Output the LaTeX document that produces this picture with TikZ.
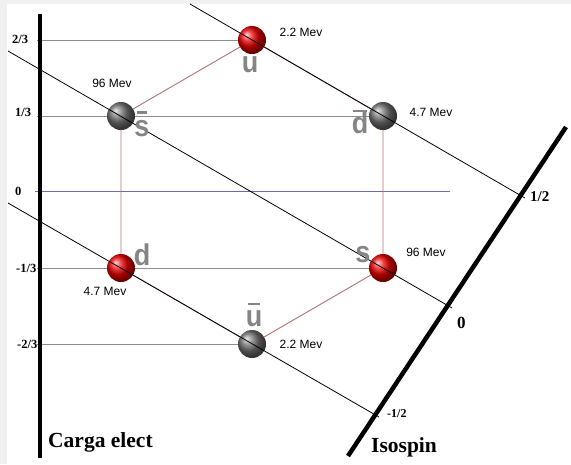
\documentclass[tikz,border=0pt]{standalone}
\usepackage{fontspec}
\setmainfont{Liberation Serif}
\setsansfont{Liberation Sans}
\usetikzlibrary{backgrounds}

\definecolor{gridgray}{HTML}{8E8E8E}
\definecolor{zeroline}{HTML}{6E6E9E}
\definecolor{edgered}{HTML}{B07272}
\definecolor{quarkgray}{HTML}{858585}
\definecolor{framegray}{HTML}{F0F0F0}

% letter with a bar over it (antiquark); #1 gap below the bar, #2 bar width factor, #3 letter
\newcommand{\barq}[3]{\setbox0\hbox{#3}\vbox{\offinterlineskip\hbox to\wd0{\hss\vrule width #2\wd0 height 2.6pt depth 0pt\hss}\kern#1\box0}}

\begin{document}
\begin{tikzpicture}[x=1pt,y=-1pt,
  chargeaxis/.style={line width=4pt},
  isoaxis/.style={line width=4.5pt},
  gridline/.style={gridgray, line width=0.9pt},
  hexedge/.style={edgered, line width=0.9pt},
  isoline/.style={black, line width=0.8pt},
  quark/.style={circle, inner sep=0pt, minimum size=28pt, shade, ball color=#1},
  massl/.style={font=\sffamily\fontsize{12}{12}\selectfont, inner sep=0pt},
  letter/.style={font=\sffamily\bfseries\fontsize{30}{30}\selectfont, text=quarkgray, inner sep=0pt, xscale=0.9},
  ticklab/.style={font=\bfseries\fontsize{12.5}{13}\selectfont, inner sep=0pt},
  axname/.style={font=\bfseries\fontsize{21.5}{22}\selectfont, inner sep=0pt}]

\useasboundingbox (0,0) rectangle (571,464);

% quarks and antiquarks
\node[quark=red!92!black]  (u)  at (252,40)  {};
\node[quark=black!55]      (sb) at (121,116) {};
\node[quark=black!55]      (db) at (383,116) {};
\node[quark=red!92!black]  (d)  at (121,268) {};
\node[quark=red!92!black]  (s)  at (383,268) {};
\node[quark=black!55]      (ub) at (252,344) {};

% axis end points and line ends
\coordinate (qtop) at (40,14);
\coordinate (qbot) at (40,458);
\coordinate (itop) at (566,127);
\coordinate (ibot) at (348,456);

\coordinate (h2) at (37,40);
\coordinate (h1) at (37,116);
\coordinate (h0a) at (35,191);
\coordinate (h0b) at (450,191);
\coordinate (hm1) at (37,268);
\coordinate (hm2) at (37,344);

\coordinate (l1a) at (190,4);
\coordinate (l1b) at (525,198);
\coordinate (l2a) at (8,51);
\coordinate (l2b) at (452,308);
\coordinate (l3a) at (8,203);
\coordinate (l3b) at (379,417);

\begin{pgfonlayer}{background}
  \fill[framegray] (0,0) rectangle (571,464);
  \fill[white] (7,4) rectangle (571,464);
  % charge levels
  \draw[gridline] (h2) -- (u);
  \draw[gridline] (h1) -- (db);
  \draw[zeroline, line width=0.9pt] (h0a) -- (h0b);
  \draw[gridline] (hm1) -- (s);
  \draw[gridline] (hm2) -- (ub);
  % hexagon
  \draw[hexedge] (u) -- (sb) -- (d) -- (ub) -- (s) -- (db) -- (u);
\end{pgfonlayer}

% axes
\draw[chargeaxis] (qtop) -- (qbot);
\draw[isoaxis] (ibot) -- (itop);

% isospin lines
\draw[isoline] (l1a) -- (l1b);
\draw[isoline] (l2a) -- (l2b);
\draw[isoline] (l3a) -- (l3b);

% quark letters
\node[letter, anchor=base] (tu)  at (250,72)  {u};
\node[letter, anchor=base] (tsb) at (142,136) {\barq{6pt}{0.7}{s}};
\node[letter, anchor=base] (tdb) at (360,133) {\barq{-1pt}{0.9}{d}};
\node[letter, anchor=base] (td)  at (142,265) {d};
\node[letter, anchor=base] (ts)  at (363,262) {s};
\node[letter, anchor=base] (tub) at (254,326) {\barq{5pt}{0.7}{u}};

% masses
\node[massl] (mu)  at (301,32)  {2.2 Mev};
\node[massl] (msb) at (112,83)  {96 Mev};
\node[massl] (mdb) at (431,112) {4.7 Mev};
\node[massl] (md)  at (105,291) {4.7 Mev};
\node[massl] (ms)  at (426,252) {96 Mev};
\node[massl] (mub) at (301,344) {2.2 Mev};

% charge labels
\node[ticklab, anchor=west] (c2)  at (12,39)  {2/3};
\node[ticklab, anchor=west] (c1)  at (15,112) {1/3};
\node[ticklab, anchor=west] (c0)  at (15,191) {0};
\node[ticklab, anchor=west] (cm1) at (16,268) {-1/3};
\node[ticklab, anchor=west] (cm2) at (17,344) {-2/3};

% isospin labels
\node[font=\bfseries\fontsize{15}{15}\selectfont, inner sep=0pt, anchor=west] (i1) at (530,197) {1/2};
\node[font=\bfseries\fontsize{17}{17}\selectfont, inner sep=0pt, anchor=west] (i0) at (457,323) {0};
\node[font=\bfseries\fontsize{12}{12}\selectfont, inner sep=0pt, anchor=west] (im1) at (387,414) {-1/2};

% axis names
\node[axname, anchor=base west] (nq) at (48,447) {Carga elect};
\node[axname, anchor=base west] (ni) at (371,452) {Isospin};

\end{tikzpicture}
\end{document}
